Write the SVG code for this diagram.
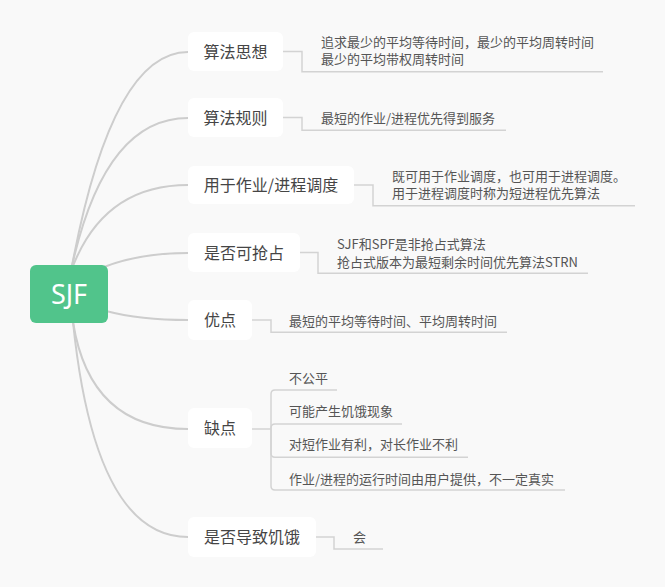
<svg xmlns="http://www.w3.org/2000/svg" width="665" height="587" viewBox="0 0 665 587">
<style>
.bg{fill:#f9f9f9}
.curve{fill:none;stroke:#cdcdcd;stroke-width:2;stroke-linecap:round}
.leafline{fill:none;stroke:#d3d3d3;stroke-width:1.5}
.node{fill:#ffffff}
.ntext{font-family:"Noto Sans CJK SC","Noto Sans",sans-serif;font-size:16px;fill:#454545;text-anchor:middle}
.ltext{font-family:"Noto Sans CJK SC","Noto Sans",sans-serif;font-size:13px;fill:#555555}
.root{fill:#51c48b}
.rtext{font-family:"Noto Sans","Noto Sans CJK SC",sans-serif;font-size:27px;fill:#ffffff;text-anchor:middle}
</style>
<rect class="bg" x="0" y="0" width="665" height="587"/>
<g id="connectors">
  <path class="curve" d="M72,266 Q112,52 188,52"/>
  <path class="curve" d="M72,266 Q105,118 188,118"/>
  <path class="curve" d="M73,266 Q105,185 188,185"/>
  <path class="curve" d="M104,267 Q140,253 188,253"/>
  <path class="curve" d="M106,311 Q140,320 188,320"/>
  <path class="curve" d="M73,322 Q90,429 188,429"/>
  <path class="curve" d="M73,322 Q95,537 188,537"/>
  <path class="leafline" d="M283,51.5 H302 V71.7 H603"/>
  <path class="leafline" d="M283,117.5 H302 V130.3 H506"/>
  <path class="leafline" d="M354,185 H373 V205.7 H635"/>
  <path class="leafline" d="M300,252.5 H318 V273.3 H588"/>
  <path class="leafline" d="M252,320 H271 V332.3 H507"/>
  <path class="leafline" d="M252,429 H271"/>
  <path class="leafline" d="M271,429 V394 Q271,390 275,390 H337"/>
  <path class="leafline" d="M271,429 V428 Q271,424 275,424 H402"/>
  <path class="leafline" d="M271,429 V453.3 Q271,457.3 275,457.3 H468"/>
  <path class="leafline" d="M271,429 V486 Q271,490 275,490 H565"/>
  <path class="leafline" d="M316,537 H334 V549 H383"/>
</g>
<g id="root">
  <rect class="root" x="30" y="265" width="78" height="58" rx="6"/>
  <text class="rtext" x="69" y="303.5">SJF</text>
</g>
<g id="n1">
  <rect class="node" x="188" y="32" width="95" height="39" rx="6"/>
  <text class="ntext" x="235.5" y="57.5">算法思想</text>
</g>
<g id="n1-leaf">
  <text class="ltext" x="321" y="46.7">追求最少的平均等待时间，最少的平均周转时间</text>
  <text class="ltext" x="321" y="64.3">最少的平均带权周转时间</text>
</g>
<g id="n2">
  <rect class="node" x="188" y="98" width="95" height="39" rx="6"/>
  <text class="ntext" x="235.5" y="123.5">算法规则</text>
</g>
<g id="n2-leaf">
  <text class="ltext" x="321" y="123.3">最短的作业/进程优先得到服务</text>
</g>
<g id="n3">
  <rect class="node" x="188" y="166" width="166" height="38" rx="6"/>
  <text class="ntext" x="271" y="191">用于作业/进程调度</text>
</g>
<g id="n3-leaf">
  <text class="ltext" x="392" y="180.7">既可用于作业调度，也可用于进程调度。</text>
  <text class="ltext" x="392" y="198.3">用于进程调度时称为短进程优先算法</text>
</g>
<g id="n4">
  <rect class="node" x="188" y="233" width="112" height="39" rx="6"/>
  <text class="ntext" x="244" y="258.5">是否可抢占</text>
</g>
<g id="n4-leaf">
  <text class="ltext" x="337" y="249">SJF和SPF是非抢占式算法</text>
  <text class="ltext" x="337" y="266.7">抢占式版本为最短剩余时间优先算法STRN</text>
</g>
<g id="n5">
  <rect class="node" x="188" y="300" width="64" height="40" rx="6"/>
  <text class="ntext" x="220" y="326">优点</text>
</g>
<g id="n5-leaf">
  <text class="ltext" x="289" y="325.7">最短的平均等待时间、平均周转时间</text>
</g>
<g id="n6">
  <rect class="node" x="188" y="408" width="64" height="40" rx="6"/>
  <text class="ntext" x="220" y="434">缺点</text>
</g>
<g id="n6-leaves">
  <text class="ltext" x="289" y="383.3">不公平</text>
  <text class="ltext" x="289" y="416">可能产生饥饿现象</text>
  <text class="ltext" x="289" y="449.3">对短作业有利，对长作业不利</text>
  <text class="ltext" x="289" y="484">作业/进程的运行时间由用户提供，不一定真实</text>
</g>
<g id="n7">
  <rect class="node" x="188" y="517" width="128" height="40" rx="6"/>
  <text class="ntext" x="252" y="543">是否导致饥饿</text>
</g>
<g id="n7-leaf">
  <text class="ltext" x="353" y="542.3">会</text>
</g>
</svg>
